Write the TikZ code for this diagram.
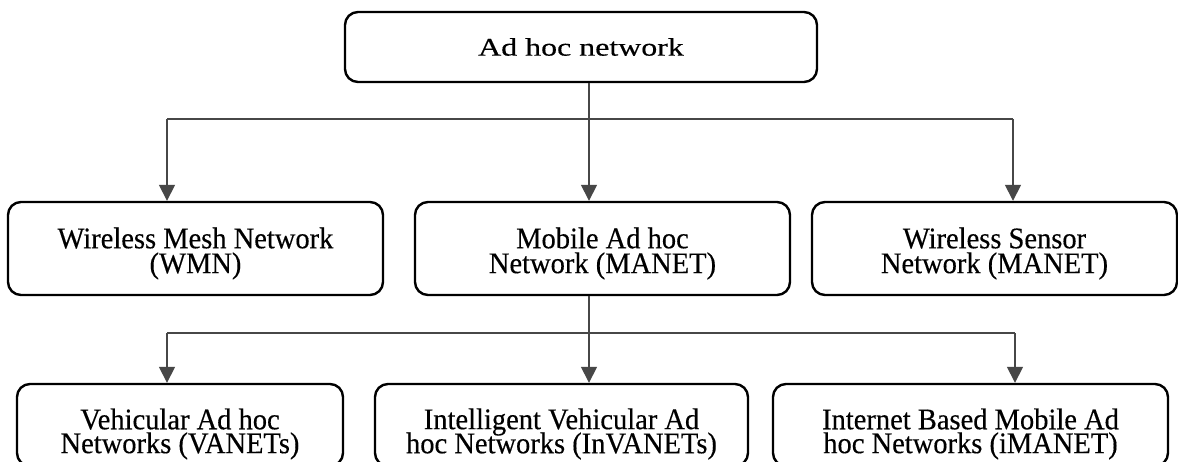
\documentclass[tikz,border=0pt]{standalone}
\usepackage{fontspec}
\setmainfont{Liberation Serif}[FakeBold=0.35]
\usepackage{graphicx}
\usetikzlibrary{arrows.meta}
% #1 = line gap correction, #2 = downward shift, #3/#4 = lines
\newcommand\twolbl[4]{\raisebox{-#2}[\height][\depth]{\scalebox{1}[1.05]{\fontsize{28.5}{19.8}\selectfont\begin{tabular}{@{}c@{}}#3\\[#1]#4\end{tabular}}}}
\tikzset{
  box/.style={draw=black, line width=2.4pt, rounded corners=13pt, inner sep=0pt, fill=white},
  conn/.style={draw=black!72, line width=1.6pt},
  arr/.style={conn, -{Triangle[width=16pt,length=16pt]}},
}
\begin{document}
\begin{tikzpicture}[x=1pt,y=-1pt]
\useasboundingbox[fill=white] (0,0) rectangle (1178,462);
% nodes
\node[box, minimum width=472pt, minimum height=70pt] (top) at (581,47)
  {\scalebox{1.14}[0.9]{\fontsize{28}{30}\selectfont Ad hoc network}};
\node[box, minimum width=375pt, minimum height=93pt] (wmn) at (195.5,248.5)
  {\twolbl{-2pt}{5pt}{Wireless Mesh Network}{(WMN)}};
\node[box, minimum width=375pt, minimum height=93pt] (manet) at (602.5,248.5)
  {\twolbl{-2pt}{5pt}{Mobile Ad hoc}{Network (MANET)}};
\node[box, minimum width=365pt, minimum height=93pt] (wsn) at (994.5,248.5)
  {\twolbl{-2pt}{5pt}{Wireless Sensor}{Network (MANET)}};
\node[box, minimum width=326pt, minimum height=82pt] (vanet) at (180,425)
  {\twolbl{-3pt}{9pt}{Vehicular Ad hoc}{Networks (VANETs)}};
\node[box, minimum width=373pt, minimum height=82pt] (invanet) at (561.5,425)
  {\twolbl{-3pt}{9pt}{Intelligent Vehicular Ad}{hoc Networks (InVANETs)}};
\node[box, minimum width=395pt, minimum height=82pt] (imanet) at (970.5,425)
  {\twolbl{-3pt}{9pt}{Internet Based Mobile Ad}{hoc Networks (iMANET)}};
% branch points
\coordinate (s1) at (589,119);
\coordinate (l1) at (167,119);
\coordinate (r1) at (1013,119);
\coordinate (s2) at (589,333);
\coordinate (l2) at (167,333);
\coordinate (r2) at (1015,333);
% connectors
\draw[conn] (top.south -| s1) -- (s1);
\draw[conn] (l1) -- (r1);
\draw[arr] (l1) -- (l1 |- wmn.north);
\draw[arr] (s1) -- (s1 |- manet.north);
\draw[arr] (r1) -- (r1 |- wsn.north);
\draw[conn] (manet.south -| s2) -- (s2);
\draw[conn] (l2) -- (r2);
\draw[arr] (l2) -- (l2 |- vanet.north);
\draw[arr] (s2) -- (s2 |- invanet.north);
\draw[arr] (r2) -- (r2 |- imanet.north);
\end{tikzpicture}
\end{document}
